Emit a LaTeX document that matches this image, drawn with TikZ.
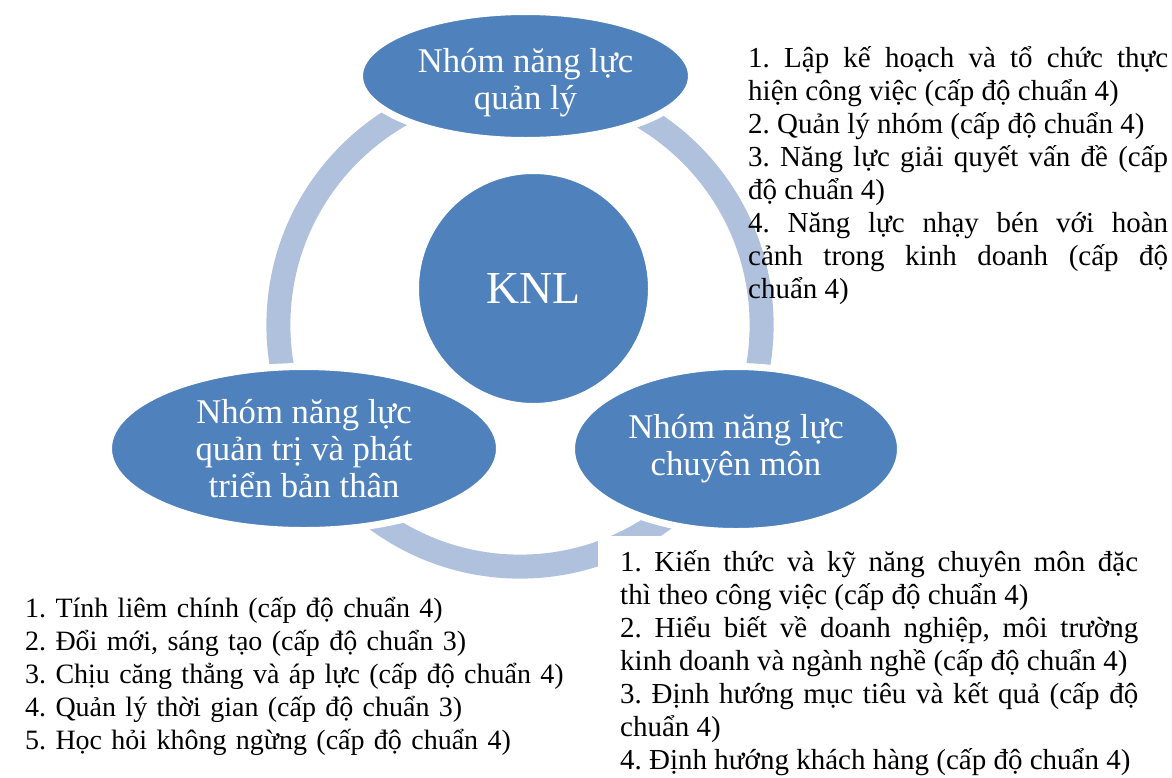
\documentclass[tikz,border=0pt]{standalone}
\usepackage{fontspec}
\setmainfont{Liberation Serif}
\usetikzlibrary{shapes.geometric}
\definecolor{nhomblue}{RGB}{79,129,189}
\definecolor{vongblue}{RGB}{176,193,221}
\frenchspacing

\begin{document}
\begin{tikzpicture}[x=1pt,y=-1pt,
    nhom/.style={ellipse, fill=nhomblue, draw=white, line width=7pt, text=white,
      inner sep=0pt, align=center, font=\fontsize{34.7}{37}\selectfont},
    ds/.style={anchor=base west, inner sep=0pt, font=\fontsize{29}{33}\selectfont}]
  \useasboundingbox (0,0) rectangle (1172,777);
  \coordinate (tam) at (520,325);
  \draw[vongblue, line width=24pt] (tam) circle[radius=241.6pt];

  \node[ds, text width=518pt, align=justify, fill=white, inner xsep=22pt, inner ysep=14pt] (dschuyenmon) at (598,571)
    {1. Kiến thức và kỹ năng chuyên môn đặc\linebreak thì theo công việc (cấp độ chuẩn 4)\\
     2. Hiểu biết về doanh nghiệp, môi trường\linebreak kinh doanh và ngành nghề (cấp độ chuẩn 4)\\
     3. Định hướng mục tiêu và kết quả (cấp độ\linebreak chuẩn 4)\\
     4. Định hướng khách hàng (cấp độ chuẩn 4)};

  \node[nhom, minimum width=332pt, minimum height=129pt] (quanly) at (525.5,76) {\rule{0pt}{38pt}Nhóm năng lực\\quản lý};
  \node[nhom, minimum width=391pt, minimum height=164pt] (banthan) at (304,448.5) {Nhóm năng lực\\quản trị và phát\\triển bản thân};
  \node[nhom, minimum width=329pt, minimum height=165pt] (chuyenmon) at (736,449) {Nhóm năng lực\\chuyên môn};
  \node[nhom, circle, minimum size=236pt, font=\fontsize{45.8}{50}\selectfont] (knl) at (533.5,288.5) {KNL};

  \node[ds, text width=420pt, align=justify] (dsquanly) at (748,67)
    {1. Lập kế hoạch và tổ chức thực\linebreak hiện công việc (cấp độ chuẩn 4)\\
     2. Quản lý nhóm (cấp độ chuẩn 4)\\
     3. Năng lực giải quyết vấn đề (cấp\linebreak độ chuẩn 4)\\
     4. Năng lực nhạy bén với hoàn\linebreak cảnh trong kinh doanh (cấp độ\linebreak chuẩn 4)};
  \node[ds, text width=570pt, align=left, font=\fontsize{28}{33}\selectfont] (dsbanthan) at (25,617)
    {1. Tính liêm chính (cấp độ chuẩn 4)\\
     2. Đổi mới, sáng tạo (cấp độ chuẩn 3)\\
     3. Chịu căng thẳng và áp lực (cấp độ chuẩn 4)\\
     4. Quản lý thời gian (cấp độ chuẩn 3)\\
     5. Học hỏi không ngừng (cấp độ chuẩn 4)};
\end{tikzpicture}
\end{document}
